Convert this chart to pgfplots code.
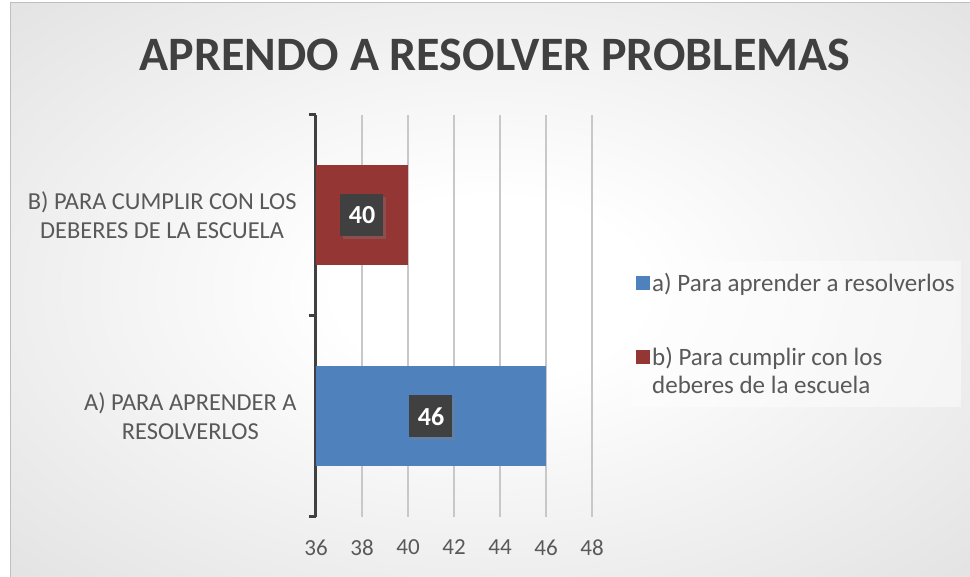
\documentclass[border=0pt]{standalone}
\usepackage{fontspec}
\setmainfont{Carlito}
\usepackage{pgfplots}
\pgfplotsset{compat=1.18}
\usetikzlibrary{shadows}
\definecolor{barblue}{HTML}{4F81BD}
\definecolor{barred}{HTML}{943634}
\definecolor{axdark}{HTML}{404040}
\definecolor{txtgray}{HTML}{595959}
\definecolor{gridgray}{HTML}{C8C8C8}
\pgfdeclareradialshading{bgshade}{\pgfpoint{0bp}{0bp}}{color(0bp)=(white); color(8bp)=(white); color(71bp)=(black!25)}
\begin{document}
\begin{tikzpicture}[x=1pt,y=1pt]
\useasboundingbox (0,0) rectangle (970,577);
\fill[white] (0,0) rectangle (970,577);
\shade[shading=bgshade] (10,0) rectangle (970,574);
\draw[black!25, line width=1pt] (10,0) -- (10,574) -- (970,574);
\node[font=\fontsize{48}{54}\selectfont\bfseries, text=axdark] at (495,522) {APRENDO A RESOLVER PROBLEMAS};
\begin{axis}[
  at={(316pt,60pt)}, anchor=south west,
  scale only axis, width=276pt, height=402pt,
  xmin=36, xmax=48, ymin=-0.5, ymax=1.5,
  xtick={36,38,...,48},
  ytick={0,1},
  yticklabels={{A) PARA APRENDER A\\RESOLVERLOS},{B) PARA CUMPLIR CON LOS\\DEBERES DE LA ESCUELA}},
  minor ytick={-0.5,0.5,1.5},
  axis lines*=left,
  axis line style={-},
  x axis line style={draw=none},
  y axis line style={line width=3pt, color=axdark},
  tick align=outside,
  major tick length=0pt,
  minor tick length=7pt,
  minor tick style={line width=3pt, color=axdark},
  xmajorgrids,
  major grid style={line width=1.5pt, color=gridgray},
  xticklabel style={font=\fontsize{23}{26}\selectfont, text=txtgray, yshift=-19pt},
  yticklabel style={font=\fontsize{24.4}{29}\selectfont, text=txtgray, align=center, xshift=-16pt},
  /pgf/number format/assume math mode=true,
  legend style={at={(1.145,0.637)}, anchor=north west, fill=white, fill opacity=0.45, text opacity=1, draw=none, font=\fontsize{25}{28}\selectfont, text=txtgray, cells={align=left, anchor=west}, nodes={inner xsep=2pt}, row sep=50pt, inner xsep=4pt, inner ysep=10pt},
]
\addplot[xbar, bar width=100pt, bar shift=0pt, fill=barblue, draw=none,
  legend image code/.code={\fill[barblue, fill opacity=1] (0pt,-7pt) rectangle (14pt,7pt);}] coordinates {(46,0)};
\addlegendentry{a) Para aprender a resolverlos}
\addplot[xbar, bar width=100pt, bar shift=0pt, fill=barred, draw=none,
  legend image code/.code={\fill[barred, fill opacity=1] (0pt,7pt) rectangle (14pt,21pt);}] coordinates {(40,1)};
\addlegendentry{b) Para cumplir con los\\deberes de la escuela}
\addplot[forget plot, draw=none, mark=none, nodes near coords, point meta=explicit symbolic,
  nodes near coords style={anchor=center, fill=axdark, text=white, font=\fontsize{26}{30}\selectfont\bfseries, minimum width=43pt, minimum height=42pt, inner sep=0pt, drop shadow={shadow xshift=3pt, shadow yshift=-3pt, opacity=0.35}}]
  coordinates {(38,1) [40] (41,0) [46]};
\end{axis}
\end{tikzpicture}
\end{document}
